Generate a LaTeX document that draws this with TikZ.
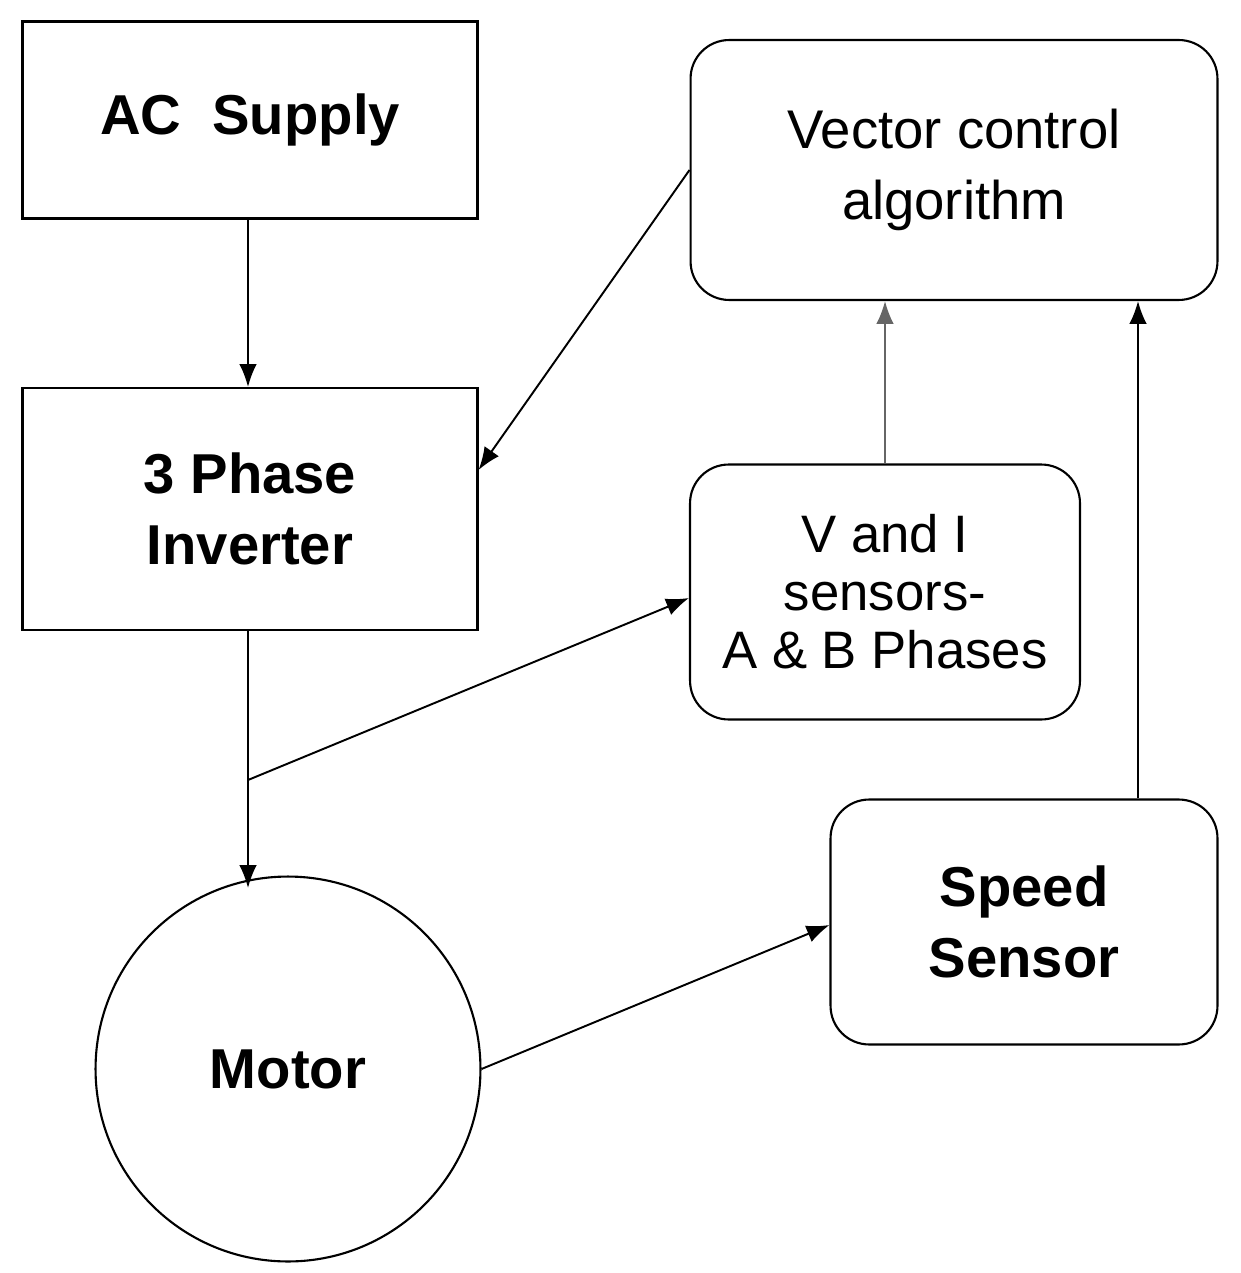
\documentclass[tikz,border=0pt]{standalone}
\usepackage{fontspec}
\setmainfont{Liberation Sans}
\usetikzlibrary{arrows.meta}
\begin{document}
\begin{tikzpicture}
	[
	x=0.02cm, y=-0.02cm, >={Latex[length=13pt,width=10pt]},
	%Blockstile
	block/.style={draw, line width=1.2pt, align=center, inner sep=0pt, font=\fontsize{32}{40}\selectfont\bfseries},
	rblock/.style={block, rounded corners=22pt},
	pfeil/.style={->, line width=1.1pt}
	]
	\useasboundingbox (0,0) rectangle (1240,1273);

	%Bloecke
	\node [block, minimum width=9.1cm, minimum height=3.94cm] (ac) at (250,120) {AC\ \ Supply};
	\node [block, minimum width=9.1cm, minimum height=4.84cm] (inv) at (250,509) {3 Phase\\Inverter};
	\node [rblock, minimum width=10.54cm, minimum height=5.2cm, font=\fontsize{31}{40}\selectfont] (vca) at (954,170) {Vector control\\algorithm};
	\node [rblock, minimum width=7.8cm, minimum height=5.1cm, font=\fontsize{30}{33}\selectfont] (vi) at (885,592) {V and I\\sensors-\\A \& B Phases};
	\node [rblock, minimum width=7.74cm, minimum height=4.9cm] (spd) at (1024,922) {Speed\\Sensor};
	\node [draw, line width=1.2pt, circle, minimum size=7.7cm, inner sep=0pt, font=\fontsize{32}{40}\selectfont\bfseries] (mot) at (288,1069) {Motor};

	%Verbindungen
	\coordinate (abz) at (248,780);
	\coordinate (mtop) at (248,888);
	\draw [pfeil] (ac.south -| abz) -- (inv.north -| abz);
	\draw [pfeil] (inv.south -| abz) -- (mtop);
	\draw [pfeil] (vca.west) -- (inv.east |- 0,470);
	\draw [pfeil] (abz) -- (vi.west |- 0,598);
	\draw [pfeil, gray!80!black] (vi.north) -- (vca.south -| vi.north);
	\draw [pfeil] (spd.north -| 1138,0) -- (vca.south -| 1138,0);
	\draw [pfeil] (mot.east) -- (spd.west |- 0,925);
\end{tikzpicture}
\end{document}
